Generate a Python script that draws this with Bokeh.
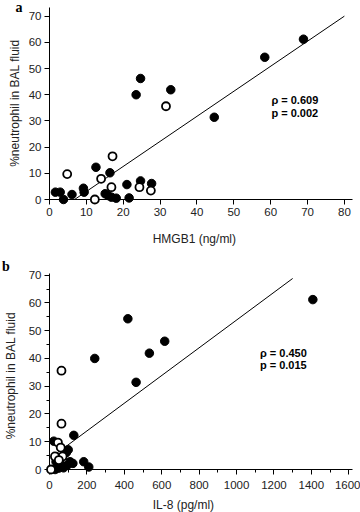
import math
from bokeh.plotting import figure
from bokeh.models import Range1d, FixedTicker
from bokeh.core.properties import value
from bokeh.layouts import column
from bokeh.embed import file_html
from bokeh.resources import INLINE

# ---------------- data: panel a (HMGB1) ----------------
hmgb1_filled_x = [1.6, 2.9, 3.8, 6.1, 9.2, 9.4, 12.6, 16.4, 15.1, 15.9, 16.8, 18.1,
                  21.0, 21.6, 24.7, 27.7, 23.5, 24.7, 32.9, 44.7, 58.4, 68.9]
hmgb1_filled_y = [2.8, 2.8, 0.0, 1.9, 4.3, 2.8, 12.3, 10.2, 2.2, 1.5, 0.9, 0.5,
                  5.7, 0.6, 7.1, 6.1, 40.0, 46.2, 41.9, 31.4, 54.3, 61.2]
hmgb1_open_x = [4.8, 12.3, 14.0, 17.1, 16.8, 24.4, 27.5, 31.6]
hmgb1_open_y = [9.7, 0.0, 7.9, 16.5, 4.7, 4.7, 3.4, 35.6]
fit_a_x = [6.8, 80.0]
fit_a_y = [0.0, 70.0]
stats_a = ["\u03c1 = 0.609", "p = 0.002"]

# ---------------- data: panel b (IL-8) ----------------
il8_filled_x = [183, 110, 30, 60, 45, 35, 130, 23, 125, 95, 210, 50,
                80, 75, 100, 90, 242, 616, 534, 463, 419, 1408]
il8_filled_y = [2.8, 2.8, 0.0, 1.9, 4.3, 2.8, 12.3, 10.2, 2.2, 1.5, 0.9, 0.5,
                5.7, 0.6, 7.1, 6.1, 40.0, 46.2, 41.9, 31.4, 54.3, 61.2]
il8_open_x = [45, 8, 60, 64, 70, 29, 50, 64]
il8_open_y = [9.7, 0.0, 7.9, 16.5, 4.7, 4.7, 3.4, 35.6]
fit_b_x = [20.0, 1300.0]
fit_b_y = [4.9, 68.8]
stats_b = ["\u03c1 = 0.450", "p = 0.015"]

y_ticks = [0, 10, 20, 30, 40, 50, 60, 70]
x_ticks_a = [0, 10, 20, 30, 40, 50, 60, 70, 80]
x_ticks_b = [0, 200, 400, 600, 800, 1000, 1200, 1400, 1600]
x_minor_b = [100, 300, 500, 700, 900, 1100, 1300, 1500]
y_minor_b = [5, 15, 25, 35, 45, 55, 65]

y_title = "%neutrophil in BAL fluid"
x_title_a = "HMGB1 (ng/ml)"
x_title_b = "IL-8 (pg/ml)"

SANS = "Liberation Sans"
SERIF = "Liberation Serif"
TXT = "#222222"


def style_axes(p, xt, yt, xminor=None, yminor=None, tstand=3):
    p.grid.visible = False
    p.outline_line_color = None
    p.xaxis.ticker = FixedTicker(ticks=xt, minor_ticks=xminor or [])
    p.yaxis.ticker = FixedTicker(ticks=yt, minor_ticks=yminor or [])
    for ax in (p.xaxis[0], p.yaxis[0]):
        ax.axis_line_color = "black"
        ax.axis_line_width = 1
        ax.major_tick_line_color = "black"
        ax.minor_tick_line_color = "black"
        ax.major_tick_out = 5
        ax.major_tick_in = 0
        ax.minor_tick_out = 3
        ax.minor_tick_in = 0
        ax.major_label_text_font = SANS
        ax.major_label_text_font_size = "11.5px"
        ax.major_label_text_color = TXT
        ax.major_label_standoff = 3
    p.xaxis.major_label_standoff = tstand


def add_points(p, fx, fy, ox, oy, lx, ly):
    p.line(lx, ly, line_color="black", line_width=1)
    p.scatter(fx, fy, marker="circle", size=8.5, fill_color="black",
              line_color="black", line_width=1, level="overlay")
    p.scatter(ox, oy, marker="circle", size=8, fill_color="white",
              line_color="black", line_width=1.8, level="overlay")


def add_text(p, panel, px, py, ylab_x, ylab_y, xlab, xlab_x, xlab_y,
             sx, sy1, sy2, stats):
    p.text(x=[px], y=[py], text=[panel], text_font=value(SERIF),
           text_font_style="bold", text_font_size="14px", text_color="black",
           text_align="left", text_baseline="top", level="overlay")
    p.text(x=[ylab_x], y=[ylab_y], text=[y_title],
           text_font=value(SANS), text_font_size="12px", text_color=TXT,
           angle=math.pi / 2, text_align="center", text_baseline="middle",
           level="overlay")
    p.text(x=[xlab_x], y=[xlab_y], text=[xlab],
           text_font=value(SANS), text_font_size="12px", text_color=TXT,
           text_align="center", text_baseline="middle", level="overlay")
    p.text(x=[sx, sx], y=[sy1, sy2], text=stats, text_font=value(SANS),
           text_font_style="bold", text_font_size="11px", text_color="black",
           text_align="left", text_baseline="middle", level="overlay")


# ---------------- panel a ----------------
pa = figure(width=360, height=256, x_range=Range1d(0, 82.2), y_range=Range1d(0, 73.3),
            output_backend="svg", toolbar_location=None,
            min_border_left=37, min_border_right=8, min_border_top=7,
            min_border_bottom=57)
style_axes(pa, x_ticks_a, y_ticks, tstand=3)
add_points(pa, hmgb1_filled_x, hmgb1_filled_y, hmgb1_open_x, hmgb1_open_y, fit_a_x, fit_a_y)
add_text(pa, "a", -9.2, 76.3, -9.3, 36.8, x_title_a, 39.3, -14.9,
         60.2, 37.8, 33.0, stats_a)

# ---------------- panel b ----------------
pb = figure(width=360, height=256, x_range=Range1d(0, 1620), y_range=Range1d(0, 70.6),
            output_backend="svg", toolbar_location=None,
            min_border_left=49, min_border_right=8, min_border_top=17,
            min_border_bottom=43)
style_axes(pb, x_ticks_b, y_ticks, xminor=x_minor_b, yminor=y_minor_b, tstand=6)
add_points(pb, il8_filled_x, il8_filled_y, il8_open_x, il8_open_y, fit_b_x, fit_b_y)
add_text(pb, "b", -254, 75.9, -206, 33.8, x_title_b, 716, -12.8,
         1125, 42.1, 37.6, stats_b)

layout = column(pa, pb)
open("out.html", "w").write(file_html(layout, INLINE))
